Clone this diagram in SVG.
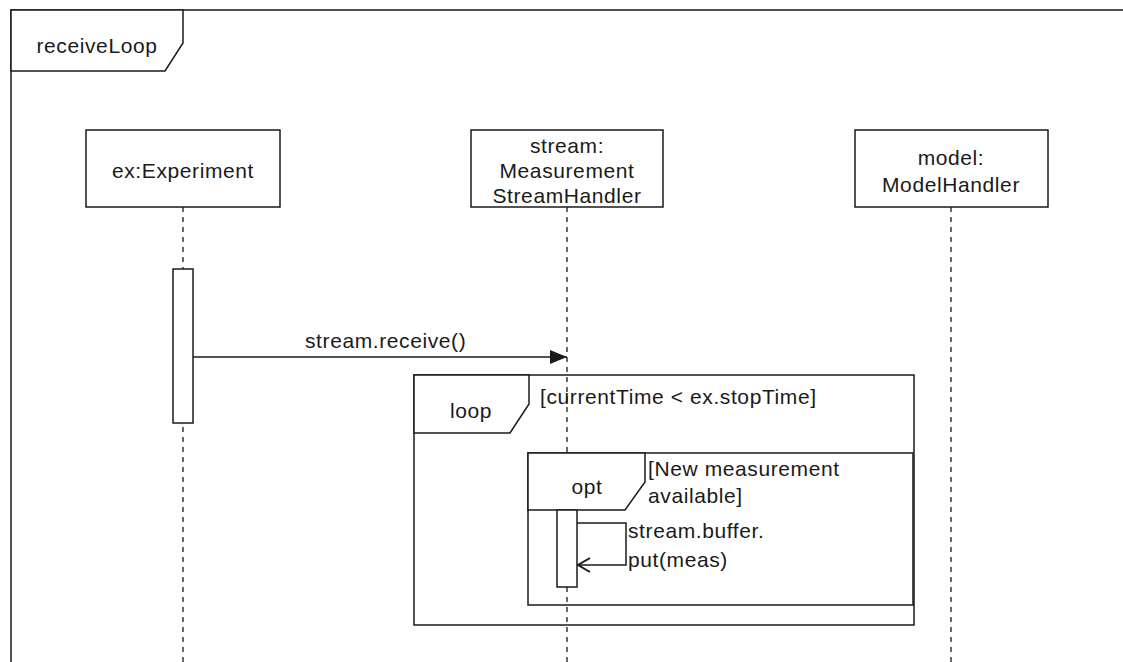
<svg xmlns="http://www.w3.org/2000/svg" width="1123" height="662" viewBox="0 0 1123 662">
<style>
  .t { font-family: "Liberation Sans", Arial, sans-serif; font-size: 21px; fill: #1a1a1a; letter-spacing: 0.6px; }
  .c { text-anchor: middle; }
  .box { fill: #fff; stroke: #1a1a1a; stroke-width: 1.5; }
  .frame { fill: none; stroke: #1a1a1a; stroke-width: 1.5; }
  .tab { fill: #fff; stroke: #1a1a1a; stroke-width: 1.5; }
  .life { stroke: #1a1a1a; stroke-width: 1.3; stroke-dasharray: 5 5; fill: none; }
  .msg { stroke: #1a1a1a; stroke-width: 1.5; fill: none; }
</style>
<defs>
  <marker id="filled" markerWidth="18" markerHeight="14" refX="17" refY="7" orient="auto" markerUnits="userSpaceOnUse">
    <path d="M0,0 L17,7 L0,14 Z" fill="#1a1a1a"/>
  </marker>
  <marker id="open" markerWidth="16" markerHeight="16" refX="14" refY="8" orient="auto" markerUnits="userSpaceOnUse">
    <path d="M2,1 L14,8 L2,15" fill="none" stroke="#1a1a1a" stroke-width="2"/>
  </marker>
</defs>
<rect width="1123" height="662" fill="#fff"/>

<g id="frame-receiveLoop">
  <path class="frame" d="M11,662 L11,10 L1123,10"/>
  <path class="tab" d="M11,10 L183,10 L183,43 L165,71 L11,71 Z"/>
  <text class="t c" x="97" y="53">receiveLoop</text>
</g>

<g id="lifelines">
  <line class="life" x1="183" y1="207" x2="183" y2="662"/>
  <line class="life" x1="567" y1="207" x2="567" y2="662"/>
  <line class="life" x1="951" y1="207" x2="951" y2="662"/>
</g>

<g id="node-experiment">
  <rect class="box" x="86" y="130" width="194" height="77"/>
  <text class="t c" x="183" y="178">ex:Experiment</text>
</g>

<g id="node-stream">
  <rect class="box" x="471" y="130" width="192" height="77"/>
  <text class="t c" x="567" y="153">stream:</text>
  <text class="t c" x="567" y="178">Measurement</text>
  <text class="t c" x="567" y="203">StreamHandler</text>
</g>

<g id="node-model">
  <rect class="box" x="855" y="130" width="193" height="77"/>
  <text class="t c" x="951" y="165">model:</text>
  <text class="t c" x="951" y="192">ModelHandler</text>
</g>

<g id="frame-loop">
  <rect class="frame" x="414" y="375" width="500" height="250"/>
  <path class="tab" d="M414,375 L529,375 L529,404 L510,433 L414,433 Z"/>
  <text class="t c" x="471" y="418">loop</text>
  <text class="t" x="540" y="404">[currentTime &lt; ex.stopTime]</text>
</g>

<g id="frame-opt">
  <rect class="frame" x="528" y="453" width="385" height="152"/>
  <path class="tab" d="M528,453 L645,453 L645,482 L625,510 L528,510 Z"/>
  <text class="t c" x="587" y="494">opt</text>
  <text class="t" x="648" y="476">[New measurement</text>
  <text class="t" x="648" y="503">available]</text>
</g>

<g id="activation-experiment">
  <rect class="box" x="173" y="269" width="20" height="154"/>
</g>

<g id="activation-stream">
  <rect class="box" x="557" y="510" width="20" height="77"/>
</g>

<g id="connectors">
  <line class="msg" x1="193" y1="357" x2="567" y2="357" marker-end="url(#filled)"/>
  <text class="t" x="305" y="348">stream.receive()</text>
  <polyline class="msg" points="577,523 626,523 626,565 578,565" marker-end="url(#open)"/>
  <text class="t" x="628" y="538">stream.buffer.</text>
  <text class="t" x="628" y="567">put(meas)</text>
</g>
</svg>
